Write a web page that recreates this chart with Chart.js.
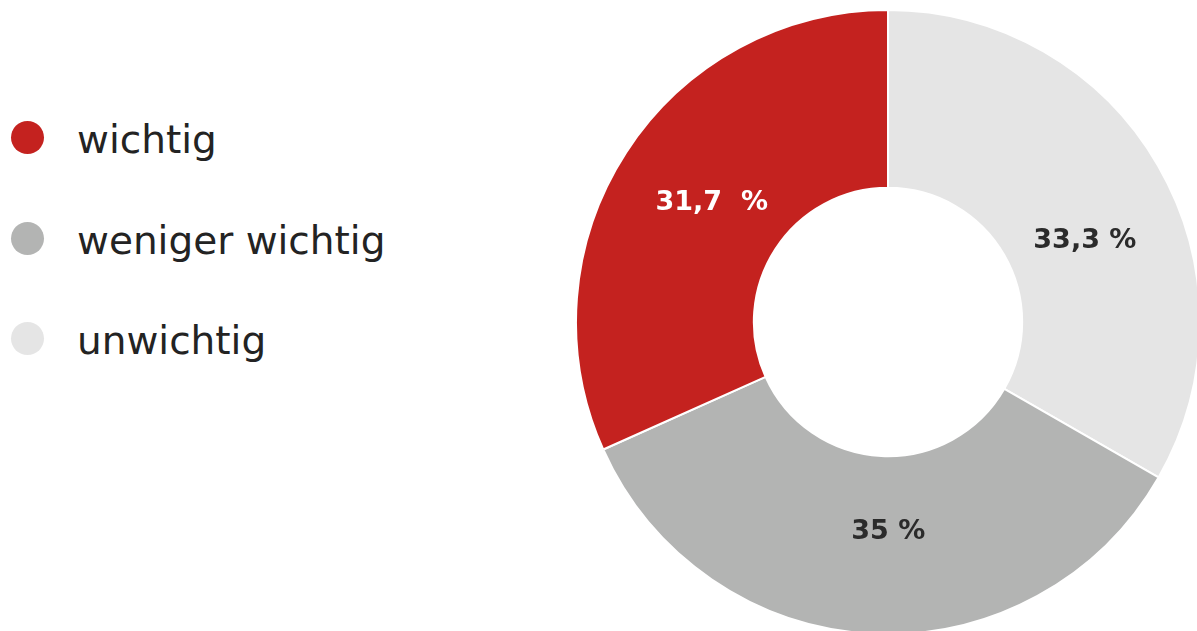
<!DOCTYPE html>
<html>
<head>
<meta charset="utf-8">
<script src="https://cdn.jsdelivr.net/npm/chart.js@4.4.1/dist/chart.umd.min.js"></script>
<style>
  html, body { margin: 0; padding: 0; width: 1197px; height: 631px; overflow: hidden; background: #ffffff; }
  #chartBox { position: absolute; left: 575px; top: 9px; width: 626px; height: 626px; }
  #legend { position: absolute; left: 11px; top: 0; font-family: "DejaVu Sans", sans-serif; color: #232323; }
  .item { position: absolute; left: 0; display: flex; align-items: center; white-space: nowrap; }
  .dot { width: 33px; height: 33px; border-radius: 50%; flex: none; }
  .txt { font-size: 39px; margin-left: 33px; line-height: 40px; position: relative; top: 3px; }
</style>
</head>
<body>
<div id="legend"></div>
<div id="chartBox"><canvas id="c"></canvas></div>
<script>
// Data, in clockwise drawing order from 12 o'clock
const categories = ['unwichtig', 'weniger wichtig', 'wichtig'];
const values = [33.3, 35, 31.7];
const valueLabels = ['33,3 %', '35 %', '31,7  %'];
const sliceColors = ['#e5e5e5', '#b3b4b3', '#c4221f'];
const labelColors = ['#2b2b2b', '#2b2b2b', '#ffffff'];
// legend is shown in reverse order
const legendOrder = [2, 1, 0];

// HTML legend
const legendEl = document.getElementById('legend');
const legendTops = [137, 238, 338];
legendOrder.forEach((idx, i) => {
  const it = document.createElement('div');
  it.className = 'item';
  it.style.top = (legendTops[i] - 20) + 'px';
  it.style.height = '40px';
  const d = document.createElement('div');
  d.className = 'dot';
  d.style.background = sliceColors[idx];
  const t = document.createElement('div');
  t.className = 'txt';
  t.textContent = categories[idx];
  it.appendChild(d); it.appendChild(t);
  legendEl.appendChild(it);
});

const labelPlugin = {
  id: 'sliceLabels',
  afterDatasetsDraw(chart, args, opts) {
    const ctx = chart.ctx;
    const meta = chart.getDatasetMeta(0);
    ctx.save();
    ctx.font = 'bold 27px "DejaVu Sans", sans-serif';
    ctx.textAlign = 'center';
    ctx.textBaseline = 'middle';
    meta.data.forEach((arc, i) => {
      const p = arc.getProps(['x', 'y', 'startAngle', 'endAngle', 'innerRadius', 'outerRadius'], true);
      const mid = (p.startAngle + p.endAngle) / 2;
      const r = p.innerRadius + (p.outerRadius - p.innerRadius) * opts.radiusFactor;
      const off = opts.offsets[i] || [0, 0];
      const x = p.x + Math.cos(mid) * r + off[0];
      const y = p.y + Math.sin(mid) * r + off[1];
      ctx.fillStyle = labelColors[i];
      ctx.fillText(valueLabels[i], x, y);
    });
    ctx.restore();
  }
};

new Chart(document.getElementById('c'), {
  type: 'doughnut',
  data: {
    labels: categories,
    datasets: [{
      data: values,
      backgroundColor: sliceColors,
      borderColor: '#ffffff',
      borderWidth: 2,
      hoverOffset: 0
    }]
  },
  options: {
    responsive: true,
    maintainAspectRatio: false,
    animation: false,
    cutout: '43%',
    layout: { padding: 0 },
    plugins: {
      legend: { display: false },
      tooltip: { enabled: false },
      sliceLabels: { radiusFactor: 0.44, offsets: [[13, 25], [11, -2], [2, -4]] }
    }
  },
  plugins: [labelPlugin]
});
</script>
</body>
</html>
